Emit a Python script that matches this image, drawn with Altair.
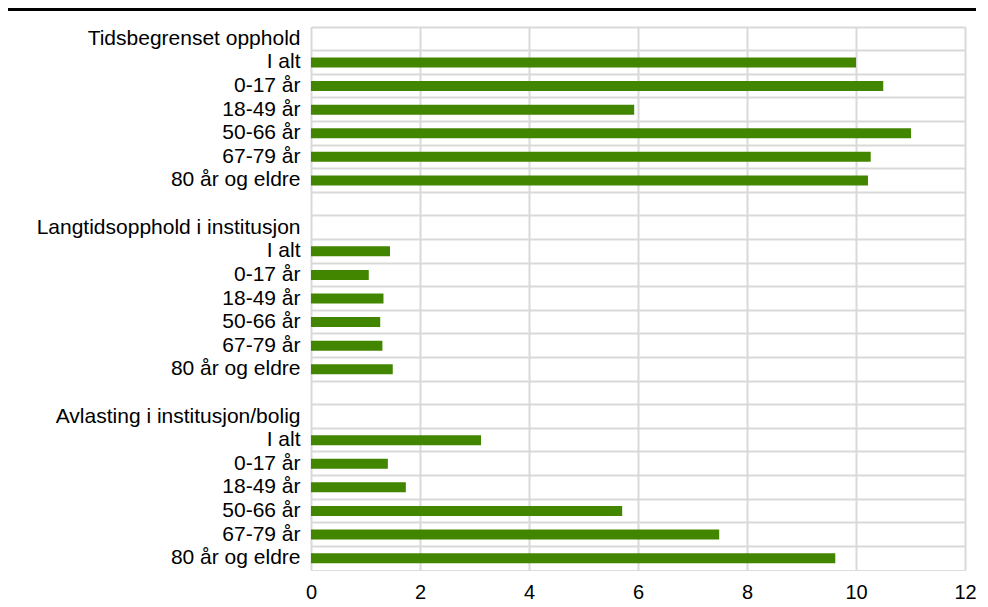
import altair as alt
import pandas as pd

groups = ["Tidsbegrenset opphold", "Langtidsopphold i institusjon", "Avlasting i institusjon/bolig"]
ages = ["I alt", "0-17 år", "18-49 år", "50-66 år", "67-79 år", "80 år og eldre"]
tidsbegrenset = [10.0, 10.5, 5.93, 11.01, 10.27, 10.22]
langtids = [1.45, 1.06, 1.33, 1.27, 1.31, 1.50]
avlasting = [3.12, 1.41, 1.74, 5.71, 7.49, 9.62]
x_ticks = [0, 2, 4, 6, 8, 10, 12]

series = [tidsbegrenset, langtids, avlasting]

# Build the row structure: header row, 6 age rows, blank spacer row between groups
labels = []
rows = []
for gi, (g, vals) in enumerate(zip(groups, series)):
    labels.append(g)
    for a, v in zip(ages, vals):
        key = f"{len(labels):02d}"
        labels.append(a)
        rows.append({"row": key, "label": a, "group": g, "value": v})
    if gi < len(groups) - 1:
        labels.append("")

domain = [f"{i:02d}" for i in range(len(labels))]
df = pd.DataFrame(rows)

label_array = "[" + ",".join("'" + l.replace("'", "\\'") + "'" for l in labels) + "]"

FONT = "Liberation Sans"
GRID = "#d9d9d9"

bars = alt.Chart(df).mark_bar(color="#428600", size=10).encode(
    x=alt.X(
        "value:Q",
        scale=alt.Scale(domain=[0, 12], nice=False),
        axis=alt.Axis(
            values=x_ticks, title=None, domain=False, ticks=False,
            grid=True, gridColor=GRID, gridWidth=2,
            labelFont=FONT, labelFontSize=20, labelColor="#000000",
            labelPadding=12, labelFlush=False, labelBound=False,
        ),
    ),
    y=alt.Y(
        "row:N",
        scale=alt.Scale(domain=domain, paddingInner=0, paddingOuter=0),
        sort=domain,
        axis=alt.Axis(
            title=None, domain=False, ticks=False,
            grid=True, gridColor=GRID, gridWidth=2, bandPosition=0,
            labelExpr=f"{label_array}[toNumber(datum.value)]",
            labelFont=FONT, labelFontSize=21, labelColor="#000000",
            labelPadding=11, labelLimit=400, labelAlign="right",
        ),
    ),
)

top_line = alt.Chart(df).mark_rule(color="#000000", strokeWidth=3).encode(
    x=alt.value(-305), x2=alt.value(665), y=alt.value(-17.5)
)

chart = alt.layer(bars, top_line).properties(
    width=654,
    height=543,
    autosize=alt.AutoSizeParams(type="none"),
    padding={"left": 303, "top": 19, "right": 15, "bottom": 37},
).configure_view(
    stroke=GRID, strokeWidth=2
).configure(background="#ffffff")

chart.save("out.html", embed_options={"renderer": "svg", "actions": False})
